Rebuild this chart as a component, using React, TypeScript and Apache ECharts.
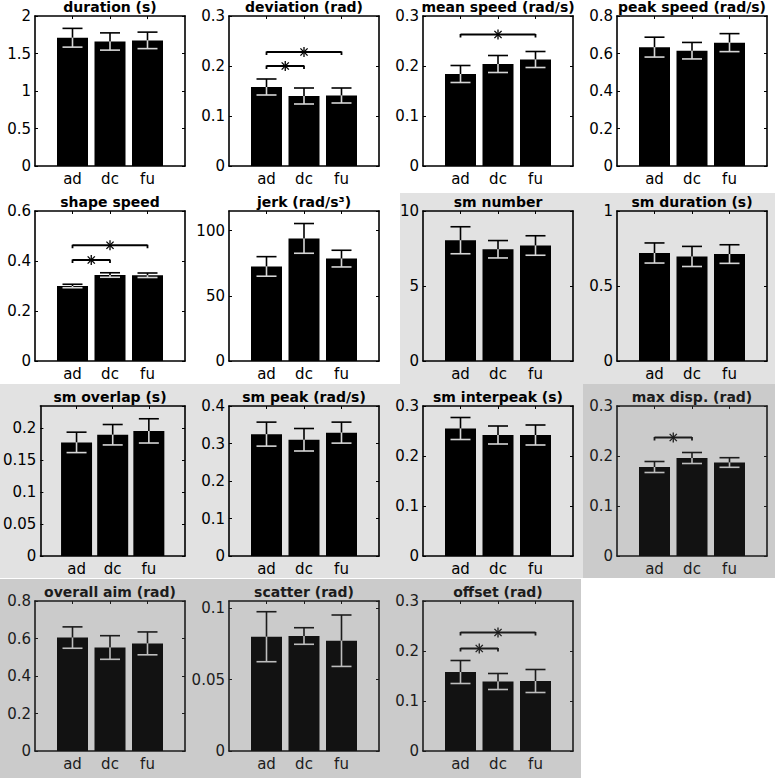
import React, { useEffect, useRef } from 'react';
import * as echarts from 'echarts';

const categories = ['ad', 'dc', 'fu'];

const panelTitles = [
  'duration (s)', 'deviation (rad)', 'mean speed (rad/s)', 'peak speed (rad/s)',
  'shape speed', 'jerk (rad/s³)', 'sm number', 'sm duration (s)',
  'sm overlap (s)', 'sm peak (rad/s)', 'sm interpeak (s)', 'max disp. (rad)',
  'overall aim (rad)', 'scatter (rad)', 'offset (rad)',
];

const meanValues = [
  [1.71, 1.66, 1.675],
  [0.158, 0.14, 0.141],
  [0.184, 0.204, 0.213],
  [0.634, 0.615, 0.658],
  [0.30, 0.344, 0.343],
  [72.5, 94, 78.5],
  [8.05, 7.45, 7.7],
  [0.72, 0.697, 0.713],
  [0.178, 0.19, 0.196],
  [0.325, 0.31, 0.329],
  [0.255, 0.242, 0.242],
  [0.178, 0.196, 0.187],
  [0.605, 0.552, 0.574],
  [0.08, 0.0805, 0.0772],
  [0.158, 0.139, 0.14],
];

const errorValues = [
  [0.125, 0.115, 0.11],
  [0.016, 0.016, 0.015],
  [0.017, 0.017, 0.016],
  [0.053, 0.044, 0.048],
  [0.007, 0.009, 0.009],
  [7.5, 11.4, 6.4],
  [0.9, 0.58, 0.65],
  [0.067, 0.067, 0.062],
  [0.016, 0.016, 0.019],
  [0.032, 0.03, 0.028],
  [0.022, 0.018, 0.02],
  [0.011, 0.011, 0.0096],
  [0.057, 0.063, 0.061],
  [0.0175, 0.0058, 0.018],
  [0.023, 0.016, 0.023],
];

const yMaxValues = [2, 0.3, 0.3, 0.8, 0.6, 115, 10, 1, 0.235, 0.4, 0.3, 0.3, 0.8, 0.105, 0.3];
const yIntervals = [0.5, 0.1, 0.1, 0.2, 0.2, 50, 5, 0.5, 0.05, 0.1, 0.1, 0.1, 0.2, 0.05, 0.1];

// significance brackets: [fromCategory, toCategory, height]
const significance: number[][][] = [
  [],
  [[0, 1, 0.2], [0, 2, 0.228]],
  [[0, 2, 0.263]],
  [],
  [[0, 1, 0.404], [0, 2, 0.463]],
  [], [], [], [], [], [],
  [[0, 1, 0.237]],
  [], [],
  [[0, 1, 0.205], [0, 2, 0.237]],
];

// 0 = white, 1 = light gray, 2 = darker gray
const panelShade = [0, 0, 0, 0, 0, 0, 1, 1, 1, 1, 1, 2, 2, 2, 2];

const W = 775;
const H = 778;
const colLefts = [35, 229, 423, 617];
const rowTops = [16, 211, 406, 601];
const PW = 150;
const PH = 150;
const FONT = "'DejaVu Sans', Verdana, sans-serif";
const LIGHT = '#e2e2e2';
const DARK = '#cbcbcb';

export default function App() {
  const ref = useRef<HTMLDivElement>(null);

  useEffect(() => {
    if (!ref.current) return;
    const chart = echarts.init(ref.current, null, { renderer: 'svg', width: W, height: H });
    const axisCats = ['', ...categories, ''];

    const grids: any[] = [];
    const xAxes: any[] = [];
    const yAxes: any[] = [];
    const series: any[] = [];
    const graphics: any[] = [];

    const shadeRects = [
      { x: 400, y: 193, w: 375, h: 191, c: LIGHT },
      { x: 0, y: 384, w: 583, h: 194, c: LIGHT },
      { x: 583, y: 384, w: 192, h: 194, c: DARK },
      { x: 0, y: 579, w: 581, h: 199, c: DARK },
    ];
    shadeRects.forEach((r) => {
      graphics.push({
        type: 'rect',
        z: -100,
        silent: true,
        shape: { x: r.x, y: r.y, width: r.w, height: r.h },
        style: { fill: r.c },
      });
    });

    panelTitles.forEach((title, p) => {
      const row = Math.floor(p / 4);
      const col = p % 4;
      const left = colLefts[col];
      const top = rowTops[row];
      const shade = panelShade[p];
      const ink = shade === 2 ? '#1c1c1c' : '#000';
      const barColor = shade === 2 ? '#121212' : '#000';
      const lowColor = shade === 2 ? '#bdbdbd' : '#d6d6d6';
      const yMax = yMaxValues[p];
      const yInt = yIntervals[p];
      const isNice = Math.abs(Math.round(yMax / yInt) * yInt - yMax) < 1e-9;

      grids.push({ left, top, width: PW, height: PH, containLabel: false });

      const lineStyle = { color: ink, width: 1.6 };
      const tickInterval = (i: number) => i > 0 && i < 4;
      const xBase = {
        type: 'category',
        gridIndex: p,
        data: axisCats,
        boundaryGap: false,
        axisLine: { show: true, onZero: false, lineStyle },
        axisTick: { show: true, inside: true, length: 3, interval: tickInterval, lineStyle: { color: ink, width: 1 } },
        splitLine: { show: false },
      };
      xAxes.push({
        ...xBase,
        position: 'bottom',
        axisLabel: { show: true, interval: 0, margin: 5, fontSize: 15, color: ink, fontFamily: FONT },
      });
      xAxes.push({ ...xBase, position: 'top', axisLabel: { show: false } });

      const yBase = {
        type: 'value',
        gridIndex: p,
        min: 0,
        max: yMax,
        interval: yInt,
        axisLine: { show: true, onZero: false, lineStyle },
        axisTick: { show: true, inside: true, length: 3, lineStyle: { color: ink, width: 1 } },
        splitLine: { show: false },
      };
      yAxes.push({
        ...yBase,
        position: 'left',
        axisLabel: { show: true, margin: 4, fontSize: 15, color: ink, fontFamily: FONT, showMaxLabel: isNice },
      });
      yAxes.push({ ...yBase, position: 'right', axisLabel: { show: false } });

      const means = meanValues[p];
      const errs = errorValues[p];

      series.push({
        type: 'bar',
        xAxisIndex: 2 * p,
        yAxisIndex: 2 * p,
        data: ['-', ...means, '-'],
        barWidth: 31,
        itemStyle: { color: barColor },
        silent: true,
        z: 2,
      });

      series.push({
        type: 'custom',
        xAxisIndex: 2 * p,
        yAxisIndex: 2 * p,
        silent: true,
        z: 3,
        data: means.map((m, i) => [i + 1, m, errs[i]]),
        renderItem: (params: any, api: any) => {
          const ci = api.value(0);
          const m = api.value(1);
          const e = api.value(2);
          const t = api.coord([ci, m + e]);
          const c = api.coord([ci, m]);
          const b = api.coord([ci, m - e]);
          const cap = 10;
          const w = 1.6;
          return {
            type: 'group',
            children: [
              { type: 'line', shape: { x1: c[0], y1: c[1], x2: t[0], y2: t[1] }, style: { stroke: ink, lineWidth: w } },
              { type: 'line', shape: { x1: t[0] - cap, y1: t[1], x2: t[0] + cap, y2: t[1] }, style: { stroke: ink, lineWidth: w } },
              { type: 'line', shape: { x1: b[0], y1: b[1], x2: c[0], y2: c[1] }, style: { stroke: lowColor, lineWidth: w } },
              { type: 'line', shape: { x1: b[0] - cap, y1: b[1], x2: b[0] + cap, y2: b[1] }, style: { stroke: lowColor, lineWidth: w } },
            ],
          };
        },
      });

      const sig = significance[p];
      if (sig.length) {
        series.push({
          type: 'custom',
          xAxisIndex: 2 * p,
          yAxisIndex: 2 * p,
          silent: true,
          z: 4,
          data: sig.map((s) => [s[0] + 1, s[2], s[1] + 1]),
          renderItem: (params: any, api: any) => {
            const i1 = api.value(0);
            const yv = api.value(1);
            const i2 = api.value(2);
            const p1 = api.coord([i1, yv]);
            const p2 = api.coord([i2, yv]);
            const mx = (p1[0] + p2[0]) / 2;
            const my = p1[1];
            const r = 5;
            const d = 3.6;
            const st = { stroke: ink, lineWidth: 1.8 };
            const sst = { stroke: ink, lineWidth: 1.3 };
            return {
              type: 'group',
              children: [
                { type: 'line', shape: { x1: p1[0], y1: my, x2: p2[0], y2: my }, style: st },
                { type: 'line', shape: { x1: p1[0], y1: my - 0.5, x2: p1[0], y2: my + 3 }, style: st },
                { type: 'line', shape: { x1: p2[0], y1: my - 0.5, x2: p2[0], y2: my + 3 }, style: st },
                { type: 'line', shape: { x1: mx, y1: my - r, x2: mx, y2: my + r }, style: sst },
                { type: 'line', shape: { x1: mx - d, y1: my - d, x2: mx + d, y2: my + d }, style: sst },
                { type: 'line', shape: { x1: mx - d, y1: my + d, x2: mx + d, y2: my - d }, style: sst },
              ],
            };
          },
        });
      }

      graphics.push({
        type: 'text',
        z: 10,
        silent: true,
        x: left + PW / 2,
        y: top - 9,
        style: {
          text: title,
          fill: ink,
          fontSize: 14,
          fontWeight: 'bold',
          fontFamily: FONT,
          textAlign: 'center',
          textVerticalAlign: 'middle',
          align: 'center',
          verticalAlign: 'middle',
        },
      });
    });

    chart.setOption({
      animation: false,
      backgroundColor: '#ffffff',
      grid: grids,
      xAxis: xAxes,
      yAxis: yAxes,
      series,
      graphic: { elements: graphics },
    });

    return () => {
      chart.dispose();
    };
  }, []);

  return (
    <div
      ref={ref}
      style={{ position: 'absolute', left: 0, top: 0, width: W, height: H }}
    />
  );
}
